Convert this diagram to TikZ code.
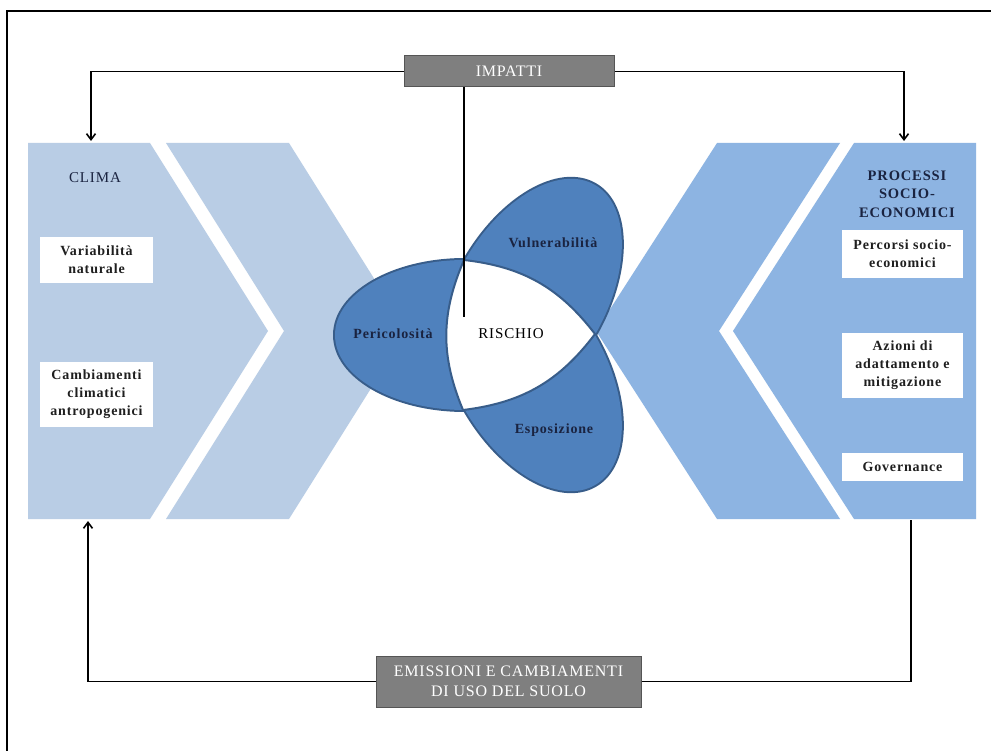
\documentclass[tikz,border=0pt]{standalone}
\usepackage{fontspec}
\setmainfont{Liberation Serif}[LetterSpace=6]
\newfontfamily\boxfont{Liberation Serif}[LetterSpace=5]
\usetikzlibrary{arrows.meta}

\definecolor{climafill}{HTML}{B9CDE5}
\definecolor{procfill}{HTML}{8DB4E2}
\definecolor{petalfill}{HTML}{4F81BD}
\definecolor{petaledge}{HTML}{385D8A}
\definecolor{greybox}{HTML}{7F7F7F}
\definecolor{greyedge}{HTML}{555555}
\definecolor{navy}{HTML}{1A2340}

\tikzset{
  txt/.style={font=\fontsize{14.5}{18}\selectfont},
  wbox/.style={fill=white, minimum width=113pt, inner sep=0pt, align=center,
    font=\fontsize{14}{18}\selectfont\bfseries, text=black!88},
  gbox/.style={fill=greybox, draw=greyedge, line width=1pt, text=white,
    font=\boxfont\fontsize{16}{20}\selectfont, align=center, inner sep=0pt},
  petallabel/.style={font=\fontsize{14}{18}\selectfont\bfseries, text=navy},
  conn/.style={line width=1.6pt, draw=black},
  arrowed/.style={-{Straight Barb[length=6pt,width=9pt]}},
  pV/.style={rotate around={-120:(O)}},
  pE/.style={rotate around={120:(O)}},
  petal/.style={x radius=130, y radius=75},
  core/.style={fill=white, draw=petaledge, line width=2pt}
}

\begin{document}
\begin{tikzpicture}[x=1pt,y=-1pt]
\useasboundingbox (0,0) rectangle (991,751);
\clip (0,0) rectangle (991,751);
\fill[white] (0,0) rectangle (991,751);

% outer frame
\draw[line width=2pt] (7,11) rectangle (1010,770);

% climate side: tail block and chevron
\fill[climafill] (28,143) -- (150,143) -- (268,331) -- (150,519) -- (28,519) -- cycle;
\fill[climafill] (166,143) -- (289,143) -- (407,331) -- (289,519) -- (166,519) -- (284,331) -- cycle;

% socio-economic side: tail block and chevron
\fill[procfill] (976,143) -- (854,143) -- (733,331) -- (854,519) -- (976,519) -- cycle;
\fill[procfill] (840,143) -- (717,143) -- (596,331) -- (717,519) -- (840,519) -- (719,331) -- cycle;

% risk petals: three ellipses turned by 120 degrees, outlined only outside
\coordinate (O) at (508.3,335);
\draw[petaledge, line width=4pt] (465,335) ellipse[petal];
\draw[petaledge, line width=4pt, pV] (465,335) ellipse[petal];
\draw[petaledge, line width=4pt, pE] (465,335) ellipse[petal];
\fill[petalfill] (465,335) ellipse[petal];
\fill[petalfill, pV] (465,335) ellipse[petal];
\fill[petalfill, pE] (465,335) ellipse[petal];

% white core where the petals meet
\coordinate (cA) at (464,260);
\coordinate (cC) at (595,334);
\coordinate (cB) at (463,410);
\draw[core] (cA) to[bend left=23] (cC) to[bend left=23] (cB) to[bend left=23] (cA) -- cycle;

% petal labels
\node[petallabel] (peri) at (393,334) {Pericolosità};
\node[petallabel] (vuln) at (553,243) {Vulnerabilità};
\node[petallabel] (espo) at (554,430) {Esposizione};
\node[txt, text=black, font=\fontsize{15}{18}\selectfont] (risk) at (511,334) {RISCHIO};

% climate column
\node[txt, text=navy, font=\fontsize{15}{18}\selectfont] (clima) at (95,178) {CLIMA};
\node[wbox, minimum height=46pt] (var) at (96.5,260) {Variabilità\\naturale};
\node[wbox, minimum height=65pt] (camb) at (96.5,394.5) {Cambiamenti\\climatici\\antropogenici};

% socio-economic column
\node[txt, text=navy, font=\fontsize{14.5}{18.5}\selectfont\bfseries, align=center] (proc) at (907,194) {PROCESSI\\SOCIO-\\ECONOMICI};
\node[wbox, minimum width=121pt, minimum height=48pt] (perc) at (902.5,254) {Percorsi socio-\\economici};
\node[wbox, minimum width=121pt, minimum height=65pt] (azio) at (902.5,365.5) {Azioni di\\adattamento e\\mitigazione};
\node[wbox, minimum width=121pt, minimum height=28pt] (gov) at (902.5,467) {Governance};

% grey boxes
\node[gbox, minimum width=210pt, minimum height=31pt] (imp) at (509,71.5) {IMPATTI};
\node[gbox, minimum width=265pt, minimum height=51pt] (emi) at (508.5,681.5) {EMISSIONI E CAMBIAMENTI\\DI USO DEL SUOLO};

% connector end points
\coordinate (climaIn) at (91,141);
\coordinate (procIn) at (904,141);
\coordinate (climaOut) at (88,521);
\coordinate (procOut) at (911,520);
\coordinate (riskTip) at (464,317);

% connectors
\draw[conn, arrowed] (imp.west) -| (climaIn);
\draw[conn, arrowed] (imp.east) -| (procIn);
\draw[conn] (imp.south -| riskTip) -- (riskTip);
\draw[conn, arrowed] (emi.west) -| (climaOut);
\draw[conn] (emi.east) -| (procOut);
\end{tikzpicture}
\end{document}
